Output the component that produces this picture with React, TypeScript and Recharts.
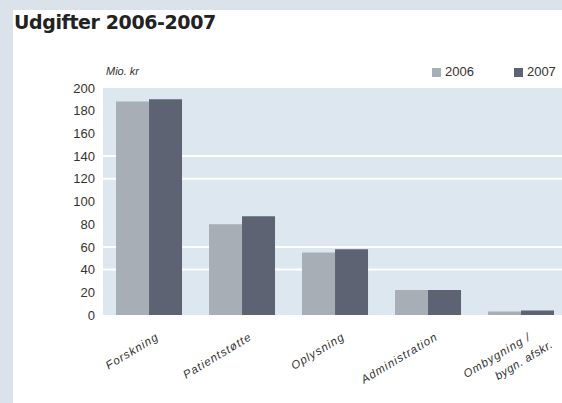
import React from 'react';
import { BarChart, Bar, XAxis, YAxis, CartesianGrid, Legend } from 'recharts';

const categories = ['Forskning', 'Patientstøtte', 'Oplysning', 'Administration', 'Ombygning /|bygn. afskr.'];
const values2006 = [188, 80, 55, 22, 3];
const values2007 = [190, 87, 58, 22, 4];
const yTicks = [0, 20, 40, 60, 80, 100, 120, 140, 160, 180, 200];

const data = categories.map((name, i) => ({ name, y2006: values2006[i], y2007: values2007[i] }));

const NARROW = '"Liberation Sans Narrow", "Liberation Sans", Arial, sans-serif';
const LABEL_FONT = '"Liberation Sans", Arial, sans-serif';

// rotated category label, second line (if any) split on "|"
const CategoryTick = (props: any) => {
  const { x, y, payload } = props;
  const lines = String(payload.value).split('|');
  return (
    <g transform={`translate(${x + 10},${y + 16})`}>
      <g transform="rotate(-31)">
        <text x={0} y={0} textAnchor="end" fontFamily={LABEL_FONT} fontStyle="italic" fontSize={11.5} letterSpacing={1} fill="#333">
          {lines[0]}
        </text>
        {lines[1] && (
          <text x={-50} y={18} textAnchor="start" fontFamily={LABEL_FONT} fontStyle="italic" fontSize={11.5} letterSpacing={0.5} fill="#333">
            {lines[1]}
          </text>
        )}
      </g>
    </g>
  );
};

const App = () => {
  return (
    <div style={{ position: 'fixed', left: 0, top: 0, width: 562, height: 403, overflow: 'hidden', background: '#fff' }}>
      <div style={{ position: 'absolute', left: 0, top: 0, width: 562, height: 10, background: '#dbe2e9' }} />
      <div style={{ position: 'absolute', left: 0, top: 0, width: 13, height: 403, background: '#dbe2e9' }} />
      <div style={{ position: 'absolute', left: 14, top: 11, fontFamily: '"DejaVu Sans", sans-serif', fontWeight: 'bold', fontSize: 19, color: '#222', letterSpacing: -0.4 }}>
        Udgifter 2006-2007
      </div>
      <div style={{ position: 'absolute', left: 106, top: 65, fontFamily: NARROW, fontStyle: 'italic', fontSize: 11, color: '#333' }}>
        Mio. kr
      </div>
      <div style={{ position: 'absolute', left: 0, top: 0 }}>
        <BarChart width={580} height={403} data={data} margin={{ top: 73, right: 12, bottom: 28, left: 65 }} barCategoryGap="14%" barGap={0}>
          <CartesianGrid fill="#dce7ef" stroke="#ffffff" strokeWidth={2} vertical={false} horizontalValues={[40, 60, 120, 140]} />
          <XAxis dataKey="name" axisLine={false} tickLine={false} interval={0} height={60} tick={<CategoryTick />} />
          <YAxis domain={[0, 200]} ticks={yTicks} width={38} axisLine={false} tickLine={false} interval={0}
            tick={{ fontFamily: NARROW, fontSize: 13, fill: '#333' }} tickMargin={2} />
          <Legend
            verticalAlign="top"
            align="left"
            iconType="square"
            iconSize={9}
            wrapperStyle={{ position: 'absolute', top: 64, left: 432, width: 200, fontFamily: NARROW, fontSize: 13 }}
            formatter={(value: string) => <span style={{ color: '#333', marginRight: 30 }}>{value}</span>}
          />
          <Bar dataKey="y2006" name="2006" fill="#a7aeb5" isAnimationActive={false} />
          <Bar dataKey="y2007" name="2007" fill="#5e6374" isAnimationActive={false} />
        </BarChart>
      </div>
    </div>
  );
};

export default App;
